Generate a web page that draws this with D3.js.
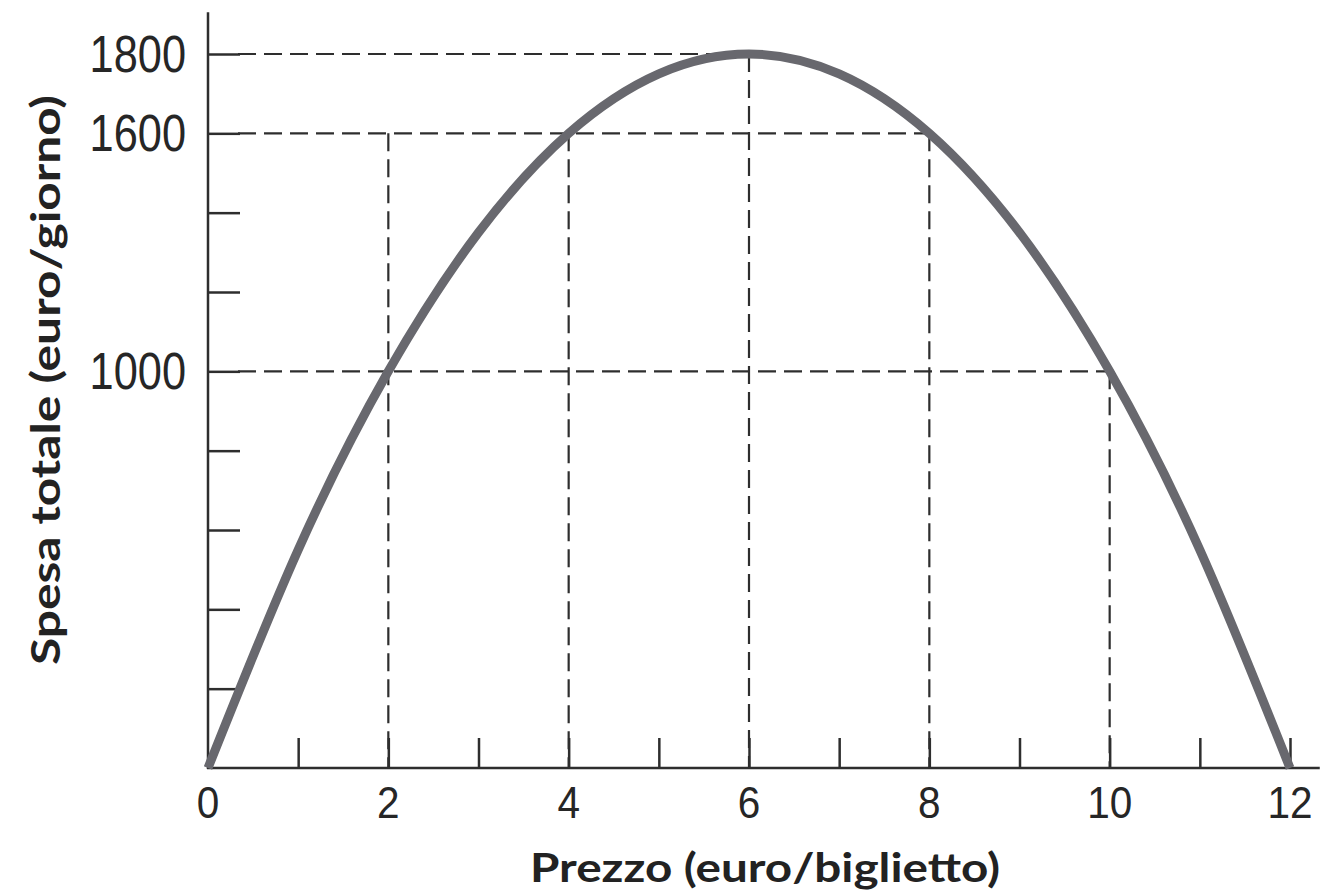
<!DOCTYPE html>
<html>
<head>
<meta charset="utf-8">
<script src="https://cdn.jsdelivr.net/npm/d3@7"></script>
<style>
  html, body { margin: 0; padding: 0; background: #fff; }
  svg { display: block; }
</style>
</head>
<body>
<svg id="chart" width="1321" height="890"></svg>
<script>
// Ticket price (euro) and total daily spending (euro/day)
const prices   = [0, 1, 2, 3, 4, 5, 6, 7, 8, 9, 10, 11, 12];
const spending = [0, 550, 1000, 1350, 1600, 1750, 1800, 1750, 1600, 1350, 1000, 550, 0];

// Axis ticks and the labelled values
const xTicks = [1, 2, 3, 4, 5, 6, 7, 8, 9, 10, 11, 12];
const xTickLabels = [0, 2, 4, 6, 8, 10, 12];
const yTicks = [200, 400, 600, 800, 1000, 1200, 1400, 1600, 1800];
const yTickLabels = [1000, 1600, 1800];

// Reference points: dashed guides from the axes to the curve
const guidePrices   = [2, 4, 6, 8, 10];
const guideSpending = [1600, 1600, 1800, 1600, 1000];
const levelValues   = [1800, 1600, 1000];
const levelPrices   = [6, 8, 10];

const xLabel = "Prezzo (euro/biglietto)";
const yLabel = "Spesa totale (euro/giorno)";

const svg = d3.select("#chart");
const ink = "#2e2e2e";

const x = d3.scaleLinear().domain([0, 12]).range([208, 1290]);
const y = d3.scaleLinear().domain([0, 1800]).range([768, 54]);

const xMax = 12.33, yMax = 1905;

// dashed guides
const guides = svg.append("g")
  .attr("fill", "none")
  .attr("stroke", ink)
  .attr("stroke-width", 2.2)
  .attr("stroke-dasharray", "18,8");

guidePrices.forEach((p, i) => {
  guides.append("line")
    .attr("x1", x(p)).attr("x2", x(p))
    .attr("y1", y(guideSpending[i])).attr("y2", y(0));
});
levelValues.forEach((v, i) => {
  guides.append("line")
    .attr("x1", x(0) + 30).attr("x2", x(levelPrices[i]))
    .attr("y1", y(v)).attr("y2", y(v));
});

// axes
const xAxis = d3.axisTop(x)
  .tickValues(xTicks)
  .tickSize(30)
  .tickSizeOuter(0)
  .tickFormat("");
const yAxis = d3.axisRight(y)
  .tickValues(yTicks)
  .tickSize(32)
  .tickSizeOuter(0)
  .tickFormat("");

const gx = svg.append("g").attr("transform", `translate(0,${y(0)})`).call(xAxis);
const gy = svg.append("g").attr("transform", `translate(${x(0)},0)`).call(yAxis);
gx.select(".domain").attr("d", `M${x(0) - 1},0H${x(xMax)}`);
gy.select(".domain").attr("d", `M0,${y(yMax)}V${y(0) + 1}`);
[gx, gy].forEach(g => {
  g.selectAll(".domain").attr("stroke", ink).attr("stroke-width", 2.5);
  g.selectAll(".tick line").attr("stroke", ink).attr("stroke-width", 2.5);
});

// spending curve
const line = d3.line()
  .x((d, i) => x(prices[i]))
  .y(d => y(d))
  .curve(d3.curveNatural);

svg.append("path")
  .datum(spending)
  .attr("fill", "none")
  .attr("stroke", "#68686e")
  .attr("stroke-width", 9)
  .attr("stroke-linecap", "butt")
  .attr("d", line);

// tick labels
const tickFont = "'Liberation Sans', Arial, sans-serif";
svg.append("g").selectAll("text")
  .data(xTickLabels)
  .join("text")
  .attr("transform", d => `translate(${x(d)},818) scale(0.9,1)`)
  .attr("text-anchor", "middle")
  .attr("font-family", tickFont)
  .attr("font-size", 45)
  .attr("fill", "#262626")
  .text(d => d);

svg.append("g").selectAll("text")
  .data(yTickLabels)
  .join("text")
  .attr("transform", d => `translate(186,${y(d) + 18}) scale(0.85,1)`)
  .attr("text-anchor", "end")
  .attr("font-family", tickFont)
  .attr("font-size", 51)
  .attr("fill", "#262626")
  .text(d => d);

// axis titles
const titleFont = "Lato, 'Open Sans', sans-serif";
svg.append("text")
  .attr("x", 530).attr("y", 882)
  .attr("font-family", titleFont)
  .attr("font-weight", "bold")
  .attr("font-size", 41)
  .attr("fill", "#222")
  .attr("textLength", 470)
  .attr("lengthAdjust", "spacingAndGlyphs")
  .text(xLabel);

svg.append("text")
  .attr("transform", "translate(60,665) rotate(-90)")
  .attr("font-family", titleFont)
  .attr("font-weight", "bold")
  .attr("font-size", 41)
  .attr("fill", "#222")
  .attr("textLength", 570)
  .attr("lengthAdjust", "spacingAndGlyphs")
  .text(yLabel);
</script>
</body>
</html>
